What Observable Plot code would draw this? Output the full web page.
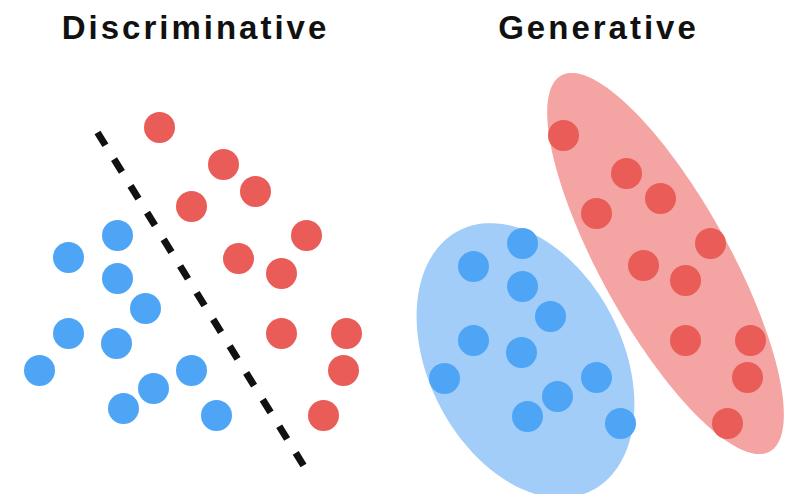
<!DOCTYPE html>
<html>
<head>
<meta charset="utf-8">
<script src="https://cdn.jsdelivr.net/npm/d3@7"></script>
<script src="https://cdn.jsdelivr.net/npm/@observablehq/plot@0.6"></script>
<style>
  html, body { margin: 0; padding: 0; background: #fff; overflow: hidden; }
</style>
</head>
<body>
<div id="chart"></div>
<script>
// Panel titles
const panelTitles = ["Discriminative", "Generative"];
const panelCenters = [195, 598];

// Discriminative panel points
const discRedX  = [159, 223, 255, 191, 306, 238, 281, 281, 346, 343, 323];
const discRedY  = [127, 164, 191, 206, 235, 258, 273, 333, 333, 370, 415];
const discBlueX = [117, 68, 117, 145, 68, 116, 39, 191, 153, 123, 216];
const discBlueY = [235, 257, 278, 308, 333, 343, 370, 370, 388, 408, 415];

// Decision boundary endpoints
const boundaryX = [97, 303];
const boundaryY = [132, 465];

// Generative panel points
const genRedX  = [563, 626, 660, 596, 710, 643, 685, 685, 750, 747, 727];
const genRedY  = [135, 173, 198, 213, 243, 265, 280, 340, 340, 377, 423];
const genBlueX = [522, 473, 522, 550, 473, 521, 444, 596, 557, 527, 620];
const genBlueY = [243, 266, 286, 316, 340, 352, 378, 377, 396, 416, 423];

// Class ellipses: centre, semi-axes, tilt (degrees)
const ellipseClass = ["blue", "red"];
const ellipseCx = [525, 665];
const ellipseCy = [360, 263];
const ellipseA  = [146, 215];
const ellipseB  = [97, 64];
const ellipseAngle = [63, 61];

const colors = {red: "#e95c57", blue: "#4ea5f6"};
const fills = {red: "#f4a4a2", blue: "#a2cdf9"};

// Build tables
const dots = [];
discRedX.forEach((x, i) => dots.push({x, y: discRedY[i], cls: "red"}));
discBlueX.forEach((x, i) => dots.push({x, y: discBlueY[i], cls: "blue"}));
genRedX.forEach((x, i) => dots.push({x, y: genRedY[i], cls: "red"}));
genBlueX.forEach((x, i) => dots.push({x, y: genBlueY[i], cls: "blue"}));

const boundary = boundaryX.map((x, i) => ({x, y: boundaryY[i]}));

const outline = [];
ellipseClass.forEach((cls, k) => {
  const th = ellipseAngle[k] * Math.PI / 180;
  const n = 180;
  for (let j = 0; j < n; j++) {
    const t = 2 * Math.PI * j / n;
    const ex = ellipseA[k] * Math.cos(t), ey = ellipseB[k] * Math.sin(t);
    outline.push({
      cls,
      x: ellipseCx[k] + ex * Math.cos(th) - ey * Math.sin(th),
      y: ellipseCy[k] + ex * Math.sin(th) + ey * Math.cos(th)
    });
  }
});

const titles = panelTitles.map((t, i) => ({t, x: panelCenters[i]}));

const chart = Plot.plot({
  width: 793,
  height: 494,
  margin: 0,
  style: {background: "#fff", overflow: "hidden"},
  x: {domain: [0, 793], range: [0, 793], axis: null},
  y: {domain: [0, 494], range: [0, 494], axis: null},
  marks: [
    Plot.line(outline, {x: "x", y: "y", z: "cls", fill: d => fills[d.cls], stroke: "none", curve: "linear-closed"}),
    Plot.line(boundary, {x: "x", y: "y", stroke: "#111", strokeWidth: 7, strokeDasharray: "15,16.4", strokeLinecap: "butt"}),
    Plot.dot(dots, {x: "x", y: "y", r: 15.5, fill: d => colors[d.cls], stroke: "none"}),
    Plot.text(titles, {x: "x", text: "t", frameAnchor: "top", dy: 15, lineAnchor: "top",
      fontSize: 33, fontWeight: "bold", fill: "#111",
      fontFamily: "'Liberation Sans', Arial, sans-serif"})
  ]
});
chart.querySelectorAll("text").forEach(t => t.setAttribute("letter-spacing", "3"));
document.getElementById("chart").appendChild(chart);
</script>
</body>
</html>
